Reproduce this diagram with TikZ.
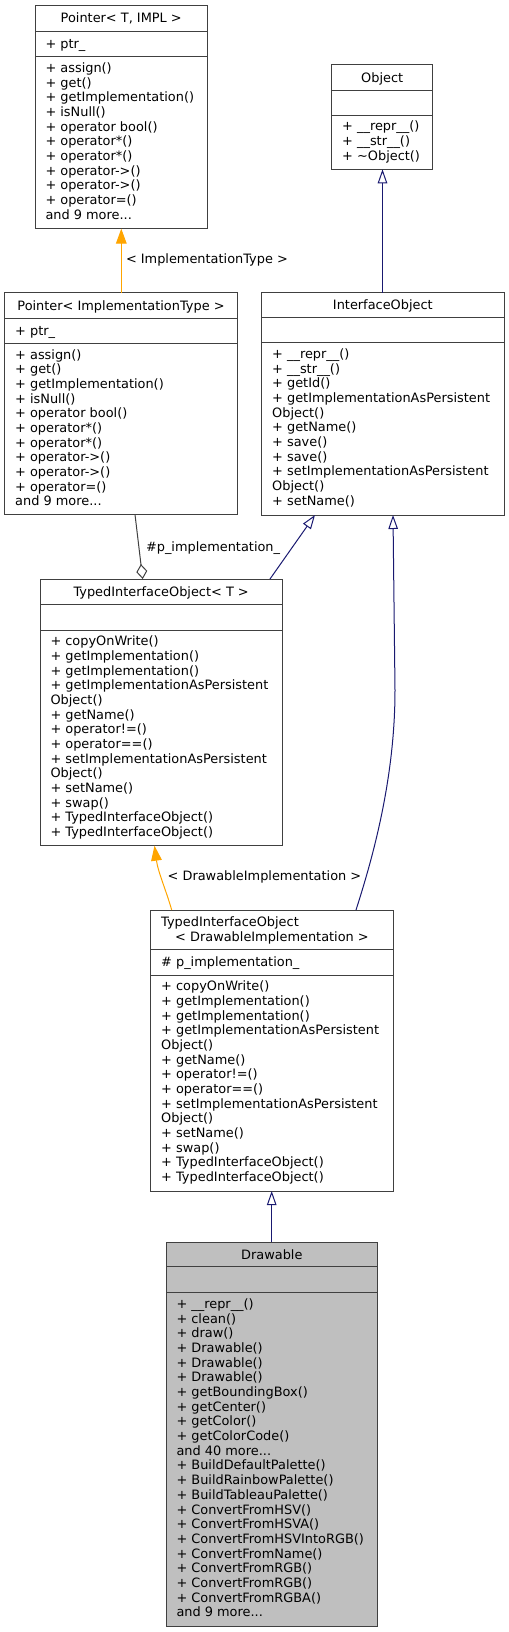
\documentclass[tikz,border=0pt]{standalone}
\usepackage{fontspec}
\setmainfont{DejaVu Sans}
\usetikzlibrary{arrows.meta}
\definecolor{edgenavy}{HTML}{191970}
\definecolor{edgeorange}{HTML}{FFA500}
\definecolor{edgegray}{HTML}{404040}
\definecolor{boxborder}{HTML}{404040}
\definecolor{curfill}{HTML}{BFBFBF}
\newcommand\mdots{...}
\tikzset{
  box/.style={draw=boxborder, line width=1bp, inner sep=0pt, outer sep=0pt, fill=white, anchor=north west},
  divider/.style={draw=boxborder, line width=1bp},
  txt/.style={font=\fontsize{12.9bp}{14.68bp}\selectfont, inner sep=0pt, outer sep=0pt, text=black},
  inherit/.style={draw=edgenavy, line width=1bp, -{Triangle[open, length=14bp, width=9.5bp]}},
  templ/.style={draw=edgeorange, line width=1bp, -{Triangle[length=15bp, width=10.7bp, fill=edgeorange]}},
  usage/.style={draw=edgegray, line width=1bp, {Diamond[open, length=15bp, width=11bp]}-},
}
% name, L, T, R, B, D1, D2, extra style
\newcommand\umlbox[8]{%
  \node[box, #8, minimum width={#4bp-#2bp}, minimum height={#5bp-#3bp}] (#1) at (#2,#3) {};
  \draw[divider] (#2,#6) -- (#4,#6);
  \draw[divider] (#2,#7) -- (#4,#7);
}
\newcommand\classlines[4]{%
  \foreach \lbl [count=\idx from 0] in {#4} {
    \node[txt, anchor=base west] (#1-\idx) at (#2, {#3+\idx*14.68}) {\lbl};
  }%
}
\begin{document}
\begin{tikzpicture}[x=1bp,y=-1bp]
\useasboundingbox (0,0) rectangle (509,1632);

% ---- Pointer< T, IMPL >
\umlbox{A}{35}{5.7}{207.5}{228.7}{31.3}{56.7}{}
\node[txt, anchor=base] (At) at (121.25,23) {Pointer< T, IMPL >};
\node[txt, anchor=base west] (Aa) at (45.5,48.3) {+ ptr\_};
\classlines{Am}{45.5}{72.5}{+ assign(), + get(), + getImplementation(), + isNull(), + operator bool(), + operator*(), + operator*(), + operator->(), + operator->(), + operator=(), and 9 more\mdots}

% ---- Object
\umlbox{B}{331.7}{65}{432.7}{169.3}{90}{115}{}
\node[txt, anchor=base] (Bt) at (382.2,82) {Object};
\classlines{Bm}{342.2}{130.8}{+ \_\_repr\_\_(), + \_\_str\_\_(), + \textasciitilde{}Object()}

% ---- Pointer< ImplementationType >
\umlbox{C}{4.7}{292.7}{237.3}{514.5}{318.3}{343.3}{}
\node[txt, anchor=base] (Ct) at (121,310) {Pointer< ImplementationType >};
\node[txt, anchor=base west] (Ca) at (15.2,335.3) {+ ptr\_};
\classlines{Cm}{15.2}{359.1}{+ assign(), + get(), + getImplementation(), + isNull(), + operator bool(), + operator*(), + operator*(), + operator->(), + operator->(), + operator=(), and 9 more\mdots}

% ---- InterfaceObject
\umlbox{D}{261.7}{292.7}{504}{515}{317.7}{342.7}{}
\node[txt, anchor=base] (Dt) at (382.85,309.7) {InterfaceObject};
\classlines{Dm}{272.2}{358.5}{+ \_\_repr\_\_(), + \_\_str\_\_(), + getId(), + getImplementationAsPersistent, Object(), + getName(), + save(), + save(), + setImplementationAsPersistent, Object(), + setName()}

% ---- TypedInterfaceObject< T >
\umlbox{E}{40}{579}{282.3}{845.7}{604.3}{630}{}
\node[txt, anchor=base] (Et) at (161.15,596.2) {TypedInterfaceObject< T >};
\classlines{Em}{50.5}{645.8}{+ copyOnWrite(), + getImplementation(), + getImplementation(), + getImplementationAsPersistent, Object(), + getName(), + operator!=(), + operator==(), + setImplementationAsPersistent, Object(), + setName(), + swap(), + TypedInterfaceObject(), + TypedInterfaceObject()}

% ---- TypedInterfaceObject< DrawableImplementation >
\umlbox{F}{150.7}{910}{393.3}{1191}{949.3}{975}{}
\node[txt, anchor=base west] (Ft1) at (161.2,926) {TypedInterfaceObject};
\node[txt, anchor=base] (Ft2) at (272,941) {< DrawableImplementation >};
\node[txt, anchor=base west] (Fa) at (161.2,966.3) {\# p\_implementation\_};
\classlines{Fm}{161.2}{990.8}{+ copyOnWrite(), + getImplementation(), + getImplementation(), + getImplementationAsPersistent, Object(), + getName(), + operator!=(), + operator==(), + setImplementationAsPersistent, Object(), + setName(), + swap(), + TypedInterfaceObject(), + TypedInterfaceObject()}

% ---- Drawable
\umlbox{G}{166}{1242.3}{377.7}{1626}{1266.7}{1292.7}{fill=curfill}
\node[txt, anchor=base] (Gt) at (271.85,1259) {Drawable};
\classlines{Gm}{176.5}{1308.5}{+ \_\_repr\_\_(), + clean(), + draw(), + Drawable(), + Drawable(), + Drawable(), + getBoundingBox(), + getCenter(), + getColor(), + getColorCode(), and 40 more\mdots, + BuildDefaultPalette(), + BuildRainbowPalette(), + BuildTableauPalette(), + ConvertFromHSV(), + ConvertFromHSVA(), + ConvertFromHSVIntoRGB(), + ConvertFromName(), + ConvertFromRGB(), + ConvertFromRGB(), + ConvertFromRGBA(), and 9 more\mdots}

% ---- connectors
\draw[templ] (C.north -| 121.3,0) -- (A.south -| 121.3,0);
\node[txt, anchor=base west] (L1) at (126,263.5) {< ImplementationType >};

\draw[inherit] (D.north -| 382.5,0) -- (B.south -| 382.5,0);
\draw[inherit] (E.north -| 270,0) -- (D.south -| 315,0);
\draw[inherit] (F.north -| 356,0) .. controls (372,860) and (395,780) .. (395,690) -- (D.south -| 393,0);

\draw[usage] (E.north -| 142.7,0) -- (C.south -| 135,0);
\node[txt, anchor=base west] (L2) at (146,551) {\#p\_implementation\_};

\draw[templ] (F.north -| 171.7,0) .. controls (166,890) and (158,872) .. (E.south -| 154.5,0);
\node[txt, anchor=base west] (L3) at (167.7,880) {< DrawableImplementation >};

\draw[inherit] (G.north -| 271.7,0) -- (F.south -| 271.7,0);
\end{tikzpicture}
\end{document}
